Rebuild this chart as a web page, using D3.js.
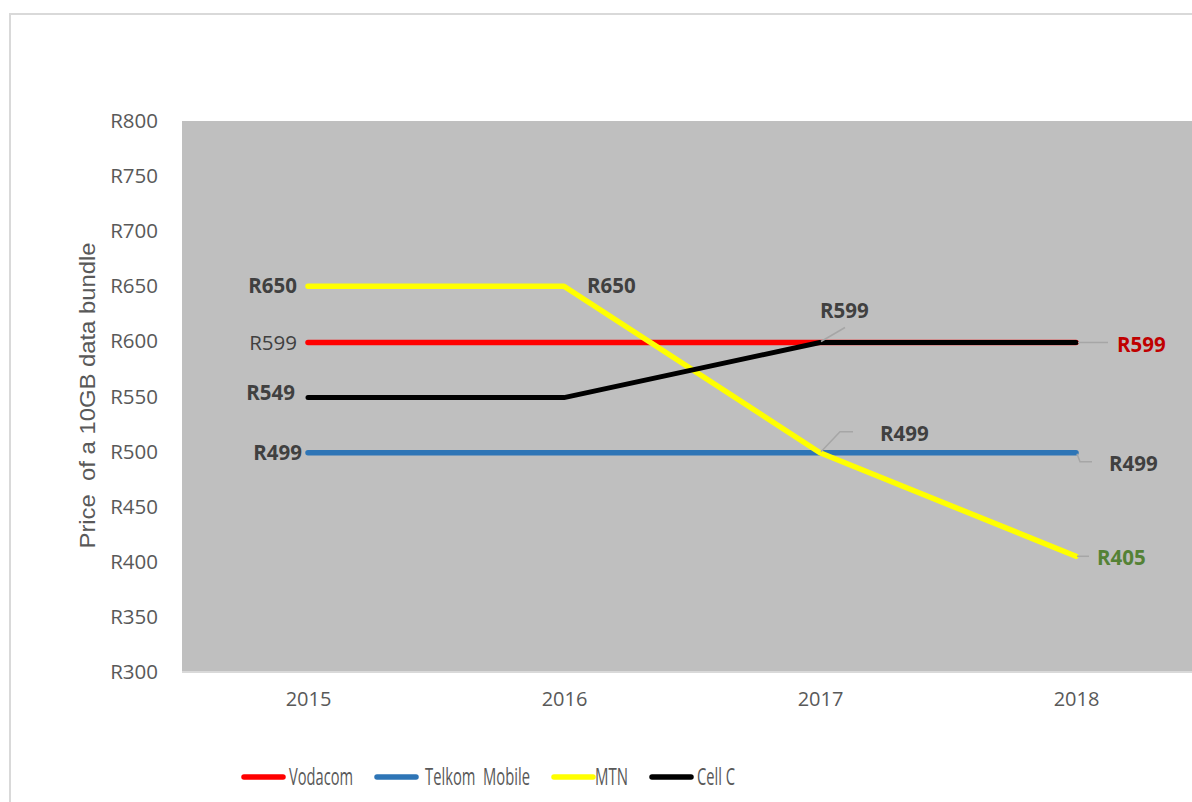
<!DOCTYPE html>
<html>
<head>
<meta charset="utf-8">
<script src="https://cdn.jsdelivr.net/npm/d3@7"></script>
<style>
  body { margin: 0; background: #fff; }
  svg { display: block; font-family: "Open Sans", "Liberation Sans", sans-serif; }
</style>
</head>
<body>
<svg id="chart" width="1192" height="802"></svg>
<script>
// data
const years = ["2015", "2016", "2017", "2018"];
const seriesNames = ["Vodacom", "Telkom  Mobile", "MTN", "Cell C"];
const vodacom = [599, 599, 599, 599];
const telkom = [499, 499, 499, 499];
const mtn = [650, 650, 499, 405];
const cellC = [549, 549, 599, 599];
const yTicks = [300, 350, 400, 450, 500, 550, 600, 650, 700, 750, 800];

const colors = ["#ff0000", "#2e75b6", "#ffff00", "#000000"];
const allSeries = [vodacom, telkom, mtn, cellC];

const svg = d3.select("#chart");

// outer chart border
svg.append("rect")
  .attr("x", 10).attr("y", 14)
  .attr("width", 1200).attr("height", 800)
  .attr("fill", "#fff")
  .attr("stroke", "#d9d9d9")
  .attr("stroke-width", 2);

const plot = { left: 180, top: 121, right: 1204, bottom: 672 };

const x = d3.scalePoint()
  .domain(years)
  .range([plot.left, plot.right])
  .padding(0.5);

const y = d3.scaleLinear()
  .domain([300, 800])
  .range([plot.bottom, plot.top]);

// plot area
svg.append("rect")
  .attr("x", plot.left + 2).attr("y", plot.top)
  .attr("width", plot.right - plot.left).attr("height", plot.bottom - plot.top)
  .attr("fill", "#bfbfbf");

// x axis line
svg.append("line")
  .attr("x1", plot.left + 2).attr("x2", plot.right)
  .attr("y1", plot.bottom).attr("y2", plot.bottom)
  .attr("stroke", "#d9d9d9").attr("stroke-width", 2);

// y axis
const yAxis = svg.append("g")
  .attr("transform", `translate(${plot.left - 22},0)`)
  .call(d3.axisLeft(y).tickValues(yTicks).tickSize(0).tickPadding(0).tickFormat(d => "R" + d));
yAxis.select(".domain").remove();
yAxis.selectAll("text")
  .attr("fill", "#595959")
  .attr("font-size", 20.5)
  .attr("font-family", "Open Sans, sans-serif");

// x axis
const xAxis = svg.append("g")
  .attr("transform", `translate(0,${plot.bottom + 20})`)
  .call(d3.axisBottom(x).tickSize(0).tickPadding(0));
xAxis.select(".domain").remove();
xAxis.selectAll("text")
  .attr("fill", "#595959")
  .attr("font-size", 20)
  .attr("font-family", "Open Sans, sans-serif");

// y axis title
svg.append("text")
  .attr("transform", `translate(95,${(plot.top + plot.bottom) / 2 - 1}) rotate(-90)`)
  .attr("text-anchor", "middle")
  .attr("fill", "#595959")
  .attr("font-size", 22)
  .attr("font-family", "Liberation Sans, sans-serif")
  .attr("textLength", 306)
  .attr("lengthAdjust", "spacingAndGlyphs")
  .attr("xml:space", "preserve")
  .text("Price  of a 10GB data bundle");

// lines
const line = d3.line()
  .x((d, i) => x(years[i]))
  .y(d => y(d));

allSeries.forEach((vals, i) => {
  svg.append("path")
    .datum(vals)
    .attr("d", line)
    .attr("fill", "none")
    .attr("stroke", colors[i])
    .attr("stroke-width", i === 3 ? 5 : 5.5)
    .attr("stroke-linecap", "round")
    .attr("stroke-linejoin", "round");
});

// data labels: series index, year index, placement
const labels = [
  { s: 2, i: 0, dx: -11, dy: 0, anchor: "end", weight: "bold", color: "#404040" },
  { s: 0, i: 0, dx: -11, dy: 0, anchor: "end", weight: "normal", color: "#404040" },
  { s: 3, i: 0, dx: -13, dy: -5, anchor: "end", weight: "bold", color: "#404040" },
  { s: 1, i: 0, dx: -6, dy: 0, anchor: "end", weight: "bold", color: "#404040" },
  { s: 2, i: 1, dx: 23, dy: 0, anchor: "start", weight: "bold", color: "#404040" },
  { s: 3, i: 2, dx: 0, dy: -32, anchor: "start", weight: "bold", color: "#404040",
    leader: [[1, -1], [25, -15]] },
  { s: 2, i: 2, dx: 60, dy: -19, anchor: "start", weight: "bold", color: "#404040",
    leader: [[1, -1], [20, -21], [33, -21]] },
  { s: 0, i: 3, dx: 41, dy: 2, anchor: "start", weight: "bold", color: "#c00000",
    leader: [[2, 0], [32, 0]] },
  { s: 1, i: 3, dx: 33, dy: 11, anchor: "start", weight: "bold", color: "#404040",
    leader: [[1, 1], [4, 9], [16, 9]] },
  { s: 2, i: 3, dx: 21, dy: 2, anchor: "start", weight: "bold", color: "#548235",
    leader: [[1, 0], [13, 0]] }
];

labels.forEach(l => {
  const val = allSeries[l.s][l.i];
  const px = x(years[l.i]);
  const py = y(val);
  if (l.leader) {
    svg.append("path")
      .attr("d", d3.line()(l.leader.map(p => [px + p[0], py + p[1]])))
      .attr("fill", "none")
      .attr("stroke", "#a6a6a6")
      .attr("stroke-width", 1.5);
  }
  svg.append("text")
    .attr("x", px + l.dx)
    .attr("y", py + l.dy)
    .attr("dy", "0.35em")
    .attr("text-anchor", l.anchor)
    .attr("font-size", 20.5)
    .attr("font-weight", l.weight)
    .attr("fill", l.color)
    .text("R" + val);
});

// legend
const legendX = [244, 377, 554, 652];
const legendTextW = [64, 105, 33, 38];
const legend = svg.append("g").attr("transform", "translate(0,777)");
seriesNames.forEach((name, i) => {
  legend.append("line")
    .attr("x1", legendX[i]).attr("x2", legendX[i] + 39)
    .attr("y1", 0).attr("y2", 0)
    .attr("stroke", colors[i])
    .attr("stroke-width", 5.5)
    .attr("stroke-linecap", "round");
  legend.append("text")
    .attr("x", legendX[i] + (i === 1 ? 48 : i === 2 ? 41 : 45))
    .attr("y", 0)
    .attr("dy", "0.35em")
    .attr("font-size", 23.5)
    .attr("fill", "#595959")
    .attr("textLength", legendTextW[i])
    .attr("lengthAdjust", "spacingAndGlyphs")
    .attr("xml:space", "preserve")
    .text(name);
});
</script>
</body>
</html>
